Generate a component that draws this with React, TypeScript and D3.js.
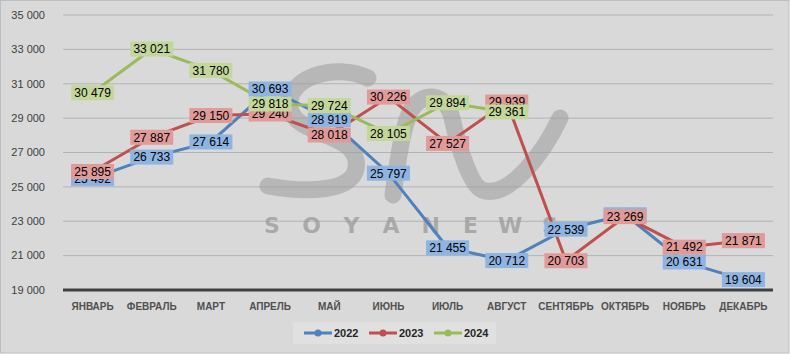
import React, { useEffect, useRef } from "react";
import * as d3 from "d3";

const width = 790;
const height = 354;
const margin = { left: 63, right: 17, top: 15, bottom: 64 };

const months = [
  "ЯНВАРЬ", "ФЕВРАЛЬ", "МАРТ", "АПРЕЛЬ", "МАЙ", "ИЮНЬ",
  "ИЮЛЬ", "АВГУСТ", "СЕНТЯБРЬ", "ОКТЯБРЬ", "НОЯБРЬ", "ДЕКАБРЬ",
];
const yTicks = [19000, 21000, 23000, 25000, 27000, 29000, 31000, 33000, 35000];

const values2022 = [25492, 26733, 27614, 30693, 28919, 25797, 21455, 20712, 22539, 23380, 20631, 19604];
const values2023 = [25895, 27887, 29150, 29240, 28018, 30226, 27527, 29939, 20703, 23269, 21492, 21871];
const values2024 = [30479, 33021, 31780, 29818, 29724, 28105, 29894, 29361];

const seriesNames = ["2022", "2023", "2024"];
const lineColors = ["#4f81bd", "#c0504d", "#9bbb59"];
const boxColors = ["#8db4e2", "#e09a98", "#c4d79b"];

const fmt = (v: number) => d3.format(",")(v).replace(/,/g, " ");

const App = () => {
  const ref = useRef<SVGSVGElement>(null);

  useEffect(() => {
    const svg = d3.select(ref.current);
    svg.selectAll("*").remove();

    const series = [values2022, values2023, values2024];

    svg.append("rect")
      .attr("x", 0.5).attr("y", 0.5)
      .attr("width", width - 1.5).attr("height", height - 1.5)
      .attr("fill", "#d9d9d9")
      .attr("stroke", "#bdbdbd");

    const x = d3.scaleBand()
      .domain(months)
      .range([margin.left, width - margin.right]);
    const y = d3.scaleLinear()
      .domain([19000, 35000])
      .range([height - margin.bottom, margin.top]);

    // grid
    svg.append("g")
      .selectAll("line")
      .data(yTicks.slice(1))
      .join("line")
      .attr("x1", margin.left).attr("x2", width - margin.right)
      .attr("y1", (d) => y(d)).attr("y2", (d) => y(d))
      .attr("stroke", "#b3b3b3").attr("stroke-width", 1);

    // y labels
    svg.append("g")
      .selectAll("text")
      .data(yTicks)
      .join("text")
      .attr("x", 45)
      .attr("y", (d) => y(d))
      .attr("dy", "0.35em")
      .attr("text-anchor", "end")
      .attr("font-family", "Liberation Sans, Arial, sans-serif")
      .attr("font-size", 11)
      .attr("fill", "#404040")
      .text((d) => fmt(d));

    // x labels
    svg.append("g")
      .selectAll("text")
      .data(months)
      .join("text")
      .attr("x", (d) => x(d)! + x.bandwidth() / 2)
      .attr("y", 306)
      .attr("dy", "0.35em")
      .attr("text-anchor", "middle")
      .attr("font-family", "Liberation Sans, Arial, sans-serif")
      .attr("font-size", 10)
      .attr("font-weight", "bold")
      .attr("fill", "#505050")
      .text((d) => d);

    // watermark
    const wm = svg.append("g").attr("fill", "none").attr("stroke", "#9a9a9a")
      .attr("stroke-opacity", 0.55).attr("stroke-width", 17).attr("stroke-linecap", "round");
    wm.append("path")
      .attr("d", "M368,78 C335,62 285,78 290,108 C295,135 350,132 356,160 C362,195 300,192 268,186");
    wm.append("path")
      .attr("d", "M393,195 C398,160 402,130 410,112 C420,92 445,90 452,118 C458,145 470,185 482,190 C510,200 545,150 560,118");
    const letters = "SOYANEWS".split("");
    svg.append("g")
      .selectAll("text")
      .data(letters)
      .join("text")
      .attr("x", (d, i) => 272 + i * 39.7)
      .attr("y", 225)
      .attr("dy", "0.35em")
      .attr("text-anchor", "middle")
      .attr("font-family", "DejaVu Sans, sans-serif")
      .attr("font-size", 22)
      .attr("font-weight", "bold")
      .attr("fill", "#9a9a9a")
      .attr("fill-opacity", 0.75)
      .text((d) => d);

    // axis line
    svg.append("line")
      .attr("x1", margin.left).attr("x2", width - margin.right)
      .attr("y1", y(19000)).attr("y2", y(19000))
      .attr("stroke", "#404040").attr("stroke-width", 3);

    const line = d3.line<number>()
      .x((d, i) => x(months[i])! + x.bandwidth() / 2)
      .y((d) => y(d));

    series.forEach((vals, s) => {
      const g = svg.append("g");
      g.append("path")
        .attr("d", line(vals))
        .attr("fill", "none")
        .attr("stroke", lineColors[s])
        .attr("stroke-width", 3);
      g.selectAll("circle")
        .data(vals)
        .join("circle")
        .attr("cx", (d, i) => x(months[i])! + x.bandwidth() / 2)
        .attr("cy", (d) => y(d))
        .attr("r", 7)
        .attr("fill", lineColors[s]);
    });

    // labels
    series.forEach((vals, s) => {
      const g = svg.append("g");
      const lab = g.selectAll("g")
        .data(vals)
        .join("g")
        .attr("transform", (d, i) => `translate(${x(months[i])! + x.bandwidth() / 2},${y(d)})`);
      lab.append("rect")
        .attr("x", -21.5).attr("y", -7.5)
        .attr("width", 43).attr("height", 15)
        .attr("fill", boxColors[s]);
      lab.append("text")
        .attr("text-anchor", "middle")
        .attr("dy", "0.36em")
        .attr("font-family", "Liberation Sans, Arial, sans-serif")
        .attr("font-size", 12)
        .attr("fill", "#000")
        .text((d) => fmt(d));
    });

    // legend
    const lg = svg.append("g");
    lg.append("rect")
      .attr("x", 293).attr("y", 322)
      .attr("width", 203).attr("height", 22)
      .attr("fill", "#e0e0e0");
    const item = lg.selectAll("g")
      .data(seriesNames)
      .join("g")
      .attr("transform", (d, i) => `translate(${304 + i * 65},333)`);
    item.append("line")
      .attr("x1", 0).attr("x2", 28)
      .attr("stroke", (d, i) => lineColors[i])
      .attr("stroke-width", 3);
    item.append("circle")
      .attr("cx", 14).attr("r", 3.5)
      .attr("fill", (d, i) => lineColors[i]);
    item.append("text")
      .attr("x", 30)
      .attr("dy", "0.35em")
      .attr("font-family", "Liberation Sans, Arial, sans-serif")
      .attr("font-size", 11)
      .attr("font-weight", "bold")
      .attr("fill", "#262626")
      .text((d) => d);
  }, []);

  return (
    <div style={{ position: "fixed", left: 0, top: 0 }}>
      <svg ref={ref} width={width} height={height} style={{ display: "block" }} />
    </div>
  );
};

export default App;
